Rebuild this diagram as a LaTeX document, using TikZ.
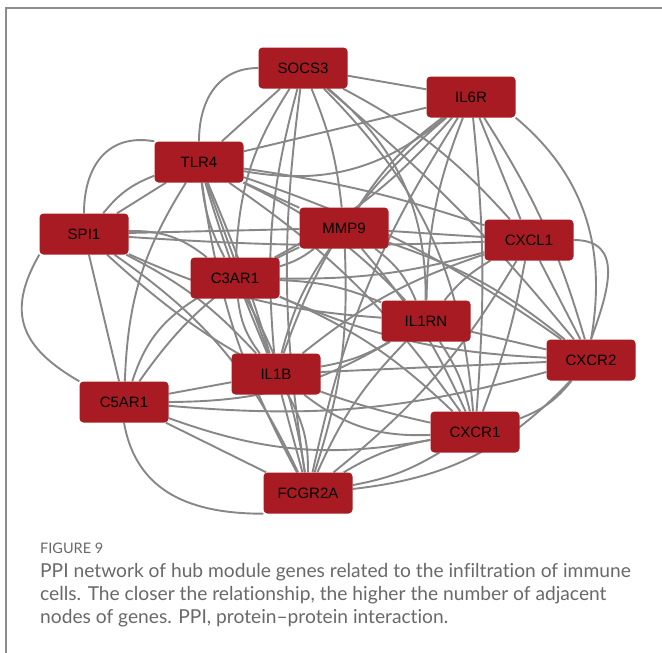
\documentclass[tikz,border=0pt]{standalone}
\usepackage{fontspec}
\setmainfont{Liberation Sans}
\newfontfamily\capfont[Ligatures=NoCommon]{Lato}
\usetikzlibrary{backgrounds}
\definecolor{nodered}{RGB}{168,27,35}
\definecolor{edgegray}{RGB}{135,135,135}
\definecolor{capgray}{RGB}{105,105,105}
\definecolor{framegray}{RGB}{140,140,140}
\tikzset{
  gene/.style={rectangle, rounded corners=4pt, fill=nodered, draw=none,
    minimum width=89pt, minimum height=41pt, inner sep=0pt,
    font=\fontsize{15}{15}\selectfont, text=black},
  link/.style={draw=edgegray, line width=1.9pt},
  capline/.style={anchor=base west, inner sep=0pt, text=capgray,
    font=\capfont\fontsize{19.2}{19.2}\selectfont}
}
\begin{document}
\begin{tikzpicture}[x=1pt,y=-1pt]
\useasboundingbox (0,0) rectangle (662,653);

\node[gene] (S)  at (303,68)  {SOCS3};
\node[gene] (R)  at (471,97)  {IL6R};
\node[gene] (T)  at (199,162) {TLR4};
\node[gene] (P)  at (84,234)  {SPI1};
\node[gene] (M)  at (344,228) {MMP9};
\node[gene] (X)  at (529,240) {CXCL1};
\node[gene] (C3) at (235,278) {C3AR1};
\node[gene] (N)  at (426,321) {IL1RN};
\node[gene] (X2) at (591,360) {CXCR2};
\node[gene] (B)  at (276,374) {IL1B};
\node[gene] (C5) at (124,402) {C5AR1};
\node[gene] (X1) at (475,432) {CXCR1};
\node[gene] (F)  at (308,493) {FCGR2A};

\begin{pgfonlayer}{background}
\fill[white] (0,0) rectangle (662,653);
\draw[framegray, line width=1.5pt] (6,653) -- (6,8) -- (662,8);
% SOCS3
\draw[link] (S) -- (R);
\draw[link] (S.west) to[out=180,in=90,looseness=1.1] (T.north);
\draw[link] (S) -- (T);
\draw[link] (S) to[bend left=8] (M);
\draw[link] (S) to[bend right=10] (B);
\draw[link] (S) to[bend right=15] (C3);
\draw[link] (S) to[bend left=25] (N);
\draw[link] (S) to[bend left=10] (X);
\draw[link] (S) to[bend left=5] (X2);
\draw[link] (S) to[bend left=20] (X1);
\draw[link] (S) to[bend right=8] (F);
% IL6R
\draw[link] (R) -- (T);
\draw[link] (R) to[bend left=25] (T);
\draw[link] (R) to[bend right=10] (M);
\draw[link] (R) -- (X);
\draw[link] (R.south east) to[out=-40,in=80,looseness=1.0] (X2.north);
\draw[link] (R) to[bend right=10] (N);
\draw[link] (R) to[bend right=15] (B);
\draw[link] (R) to[bend left=5] (X1);
\draw[link] (R) to[bend right=10] (F);
\draw[link] (R) to[bend left=10] (C3);
\draw[link] (R) to[bend left=8] (X2);
% TLR4
\draw[link] (T.north west) to[out=170,in=90,looseness=1.2] (P.north);
\draw[link] (T) -- (P);
\draw[link] (T) to[bend right=15] (P);
\draw[link] (T) -- (M);
\draw[link] (T) to[bend left=5] (X);
\draw[link] (T) to[bend right=10] (C3);
\draw[link] (T) -- (B);
\draw[link] (T) to[bend left=3] (B);
\draw[link] (T) to[bend right=3] (B);
\draw[link] (T) to[bend left=10] (N);
\draw[link] (T) to[bend left=8] (X2);
\draw[link] (T) to[bend left=10] (X1);
\draw[link] (T) to[bend right=15] (C5);
\draw[link] (T) to[bend right=10] (F);
% SPI1
\draw[link] (P) -- (M);
\draw[link] (P) to[bend right=3] (X);
\draw[link] (P) to[bend left=20] (C3);
\draw[link] (P) to[bend left=10] (B);
\draw[link] (P.south west) to[out=-120,in=150,looseness=1.3] (C5.north west);
\draw[link] (P) -- (C5);
\draw[link] (P) to[bend right=10] (N);
\draw[link] (P) to[bend left=15] (F);
\draw[link] (P) to[bend right=15] (X1);
% MMP9
\draw[link] (M) -- (X);
\draw[link] (M) to[bend left=10] (C3);
\draw[link] (M) to[bend left=15] (N);
\draw[link] (M) to[bend left=10] (X2);
\draw[link] (M) to[bend right=10] (B);
\draw[link] (M) to[bend left=8] (X1);
\draw[link] (M) to[bend left=10] (F);
\draw[link] (M) to[bend right=15] (C5);
% CXCL1
\draw[link] (X) to[bend right=10] (N);
\draw[link] (X.east) to[out=0,in=70,looseness=1.3] (X2.north);
\draw[link] (X) -- (X2);
\draw[link] (X) to[bend left=5] (X1);
\draw[link] (X) to[bend right=10] (B);
\draw[link] (X) to[bend left=8] (C3);
\draw[link] (X) to[bend left=10] (F);
% C3AR1
\draw[link] (C3) to[bend left=10] (N);
\draw[link] (C3) to[bend right=15] (B);
\draw[link] (C3) to[bend right=20] (C5);
\draw[link] (C3) to[bend right=10] (X2);
\draw[link] (C3) to[bend left=10] (X1);
\draw[link] (C3) to[bend left=10] (F);
% IL1RN
\draw[link] (N) -- (X2);
\draw[link] (N) to[bend left=10] (B);
\draw[link] (N) to[bend left=10] (X1);
\draw[link] (N) to[bend right=10] (F);
\draw[link] (N) to[bend left=15] (C5);
% CXCR2
\draw[link] (X2) -- (B);
\draw[link] (X2) to[bend left=15] (X1);
\draw[link] (X2) to[bend left=20] (F);
\draw[link] (X2) to[bend left=10] (C5);
% IL1B
\draw[link] (B) -- (C5);
\draw[link] (B) to[bend right=20] (X1);
\draw[link] (B) -- (F);
\draw[link] (B) to[bend left=15] (F);
% C5AR1
\draw[link] (C5.south) to[out=-80,in=180,looseness=1.1] (F.south west);
\draw[link] (C5) -- (F);
\draw[link] (C5) to[bend right=15] (X1);
% CXCR1
\draw[link] (X1) to[bend left=10] (F);
\draw[link] (X1) to[bend right=10] (F);
\end{pgfonlayer}

\node[anchor=base west, inner sep=0pt, text=capgray, font=\capfont\fontsize{14.5}{14.5}\selectfont] (fig) at (40,553) {FIGURE 9};
\node[capline] (c1) at (40,577) {PPI network of hub module genes related to the infiltration of immune};
\node[capline] (c2) at (40,600) {cells. The closer the relationship, the higher the number of adjacent};
\node[capline] (c3) at (40,623) {nodes of genes. PPI, protein\textendash protein interaction.};
\end{tikzpicture}
\end{document}
